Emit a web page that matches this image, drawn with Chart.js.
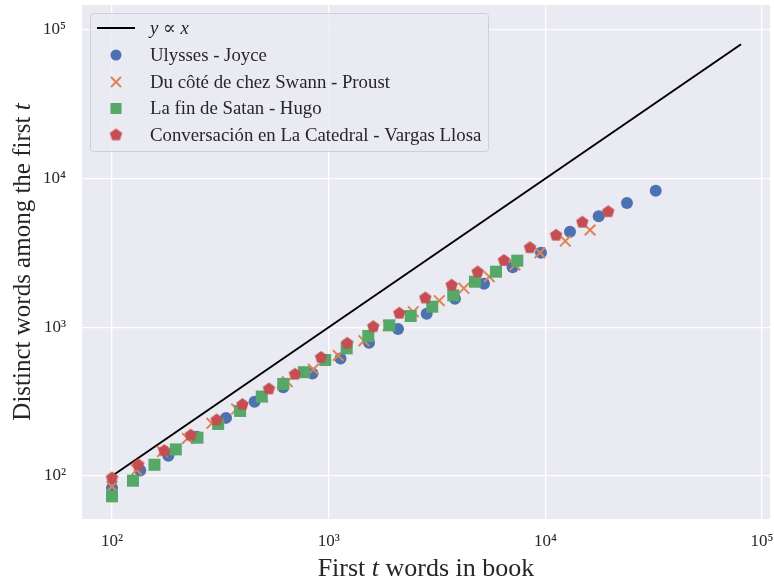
<!DOCTYPE html>
<html>
<head>
<meta charset="utf-8">
<script src="https://cdn.jsdelivr.net/npm/chart.js@4.4.1/dist/chart.umd.min.js"></script>
<style>
  html, body { margin: 0; padding: 0; background: #ffffff; }
  #container { width: 774px; height: 583px; }
</style>
</head>
<body>
<div id="container"><canvas id="chart" width="774" height="583"></canvas></div>
<script>
// tick positions and labels (log axes)
var tickValues = [100, 1000, 10000, 100000]
var tickLabels = ["10²", "10³", "10⁴", "10⁵"]

// reference line y ∝ x
var lineX = [100, 80000]
var lineY = [100, 80000]

// Ulysses - Joyce
var ulyssesX = [100, 135, 182, 246, 336, 455, 617, 841, 1134, 1535, 2089, 2833, 3826, 5210, 7063, 9545, 12990, 17620, 23800, 32300]
var ulyssesY = [83, 109, 137, 184, 246, 316, 395, 489, 617, 788, 974, 1234, 1557, 1965, 2532, 3175, 4395, 5578, 6855, 8290]

// Du côté de chez Swann - Proust
var proustX = [100, 130, 171, 223, 289, 376, 496, 644, 849, 1107, 1455, 1884, 2456, 3238, 4207, 5508, 7240, 9440, 12360, 16070]
var proustY = [85, 110, 146, 179, 226, 282, 342, 431, 522, 646, 812, 1025, 1274, 1510, 1829, 2189, 2624, 3175, 3803, 4510]

// La fin de Satan - Hugo
var hugoX = [100, 125, 157, 197, 248, 309, 390, 491, 617, 769, 964, 1211, 1524, 1905, 2390, 3006, 3758, 4732, 5916, 7420]
var hugoY = [73, 93, 119, 151, 181, 224, 274, 342, 416, 499, 603, 722, 874, 1031, 1191, 1376, 1641, 2026, 2366, 2805]

// Conversación en La Catedral - Vargas Llosa
var llosaX = [100, 132, 174, 231, 304, 400, 530, 699, 922, 1218, 1606, 2118, 2791, 3694, 4870, 6442, 8492, 11200, 14800, 19500]
var llosaY = [97, 119, 148, 188, 238, 302, 385, 483, 626, 780, 1009, 1242, 1574, 1917, 2354, 2813, 3430, 4157, 5085, 5985]

var seriesNames = [
  "Ulysses - Joyce",
  "Du côté de chez Swann - Proust",
  "La fin de Satan - Hugo",
  "Conversación en La Catedral - Vargas Llosa"
]

var BLUE = "#4C72B0"
var ORANGE = "#DD8452"
var GREEN = "#55A868"
var RED = "#C44E52"
var TEXT = "#262626"
var SERIF = "'Liberation Serif', 'DejaVu Serif', serif"

function toPoints(xs, ys) {
  var pts = []
  for (var i = 0; i < xs.length; i++) {
    pts.push({x: xs[i], y: ys[i]})
  }
  return pts
}

// pentagon marker as an image, matplotlib has "p" but chart.js doesn't
function makePentagon(color, r) {
  var size = Math.ceil(r * 2) + 2
  var c = document.createElement("canvas")
  c.width = size
  c.height = size
  var ctx = c.getContext("2d")
  ctx.fillStyle = color
  ctx.beginPath()
  for (var k = 0; k < 5; k++) {
    var a = -Math.PI / 2 + k * 2 * Math.PI / 5
    var px = size / 2 + r * Math.cos(a)
    var py = size / 2 + r * Math.sin(a)
    if (k == 0) ctx.moveTo(px, py)
    else ctx.lineTo(px, py)
  }
  ctx.closePath()
  ctx.fill()
  return c
}
var pentagon = makePentagon(RED, 6.5)

function drawSegments(ctx, segs, x, y, size) {
  // draw text pieces, some in italic, centered on x
  var total = 0
  for (var i = 0; i < segs.length; i++) {
    ctx.font = (segs[i][1] ? "italic " : "") + size + "px " + SERIF
    total += ctx.measureText(segs[i][0]).width
  }
  var cx = x - total / 2
  for (var j = 0; j < segs.length; j++) {
    ctx.font = (segs[j][1] ? "italic " : "") + size + "px " + SERIF
    ctx.fillText(segs[j][0], cx, y)
    cx += ctx.measureText(segs[j][0]).width
  }
}

var plotBackground = {
  id: "plotBackground",
  beforeDraw: function(chart) {
    var a = chart.chartArea
    var ctx = chart.ctx
    ctx.save()
    ctx.fillStyle = "#EAEAF2"
    ctx.fillRect(a.left, a.top, a.right - a.left, a.bottom - a.top)
    ctx.restore()
  }
}

var axisTitles = {
  id: "axisTitles",
  afterDraw: function(chart) {
    var a = chart.chartArea
    var ctx = chart.ctx
    ctx.save()
    ctx.fillStyle = TEXT
    ctx.textAlign = "left"
    ctx.textBaseline = "alphabetic"
    drawSegments(ctx, [["First ", false], ["t", true], [" words in book", false]], (a.left + a.right) / 2, 576, 26)
    ctx.translate(30, (a.top + a.bottom) / 2)
    ctx.rotate(-Math.PI / 2)
    drawSegments(ctx, [["Distinct words among the first ", false], ["t", true]], 0, 0, 25)
    ctx.restore()
  }
}

function legendMarker(ctx, kind, x, y) {
  ctx.save()
  if (kind == "line") {
    ctx.strokeStyle = "#000000"
    ctx.lineWidth = 2
    ctx.beginPath()
    ctx.moveTo(x - 19, y)
    ctx.lineTo(x + 19, y)
    ctx.stroke()
  } else if (kind == "circle") {
    ctx.fillStyle = BLUE
    ctx.beginPath()
    ctx.arc(x, y, 5.5, 0, Math.PI * 2)
    ctx.fill()
  } else if (kind == "cross") {
    ctx.strokeStyle = ORANGE
    ctx.lineWidth = 2
    ctx.beginPath()
    ctx.moveTo(x - 5, y - 5)
    ctx.lineTo(x + 5, y + 5)
    ctx.moveTo(x - 5, y + 5)
    ctx.lineTo(x + 5, y - 5)
    ctx.stroke()
  } else if (kind == "square") {
    ctx.fillStyle = GREEN
    ctx.fillRect(x - 5.5, y - 5.5, 11, 11)
  } else if (kind == "pentagon") {
    ctx.drawImage(pentagon, x - pentagon.width / 2, y - pentagon.height / 2)
  }
  ctx.restore()
}

var boxLegend = {
  id: "boxLegend",
  afterDatasetsDraw: function(chart) {
    var ctx = chart.ctx
    var bx = 90.5, by = 13.5, bw = 398, bh = 138, r = 3
    ctx.save()
    ctx.beginPath()
    ctx.moveTo(bx + r, by)
    ctx.lineTo(bx + bw - r, by)
    ctx.arcTo(bx + bw, by, bx + bw, by + r, r)
    ctx.lineTo(bx + bw, by + bh - r)
    ctx.arcTo(bx + bw, by + bh, bx + bw - r, by + bh, r)
    ctx.lineTo(bx + r, by + bh)
    ctx.arcTo(bx, by + bh, bx, by + bh - r, r)
    ctx.lineTo(bx, by + r)
    ctx.arcTo(bx, by, bx + r, by, r)
    ctx.closePath()
    ctx.fillStyle = "rgba(234, 234, 242, 0.8)"
    ctx.fill()
    ctx.strokeStyle = "#CFCFD6"
    ctx.lineWidth = 1
    ctx.stroke()

    var rows = [28, 55, 82, 108.5, 135]
    var kinds = ["line", "circle", "cross", "square", "pentagon"]
    for (var i = 0; i < rows.length; i++) {
      legendMarker(ctx, kinds[i], 116, rows[i])
    }
    ctx.fillStyle = TEXT
    ctx.textBaseline = "middle"
    ctx.textAlign = "left"
    // first entry: y ∝ x with italic letters
    var tx = 150
    var parts = [["y", true], [" ∝ ", false], ["x", true]]
    for (var p = 0; p < parts.length; p++) {
      ctx.font = (parts[p][1] ? "italic " : "") + "18.8px " + SERIF
      ctx.fillText(parts[p][0], tx, rows[0] + 1)
      tx += ctx.measureText(parts[p][0]).width
    }
    ctx.font = "18.8px " + SERIF
    for (var k = 0; k < seriesNames.length; k++) {
      ctx.fillText(seriesNames[k], 150, rows[k + 1] + 1)
    }
    ctx.restore()
  }
}

function logAxis(min, max, pad, isY) {
  return {
    type: "logarithmic",
    min: min,
    max: max,
    border: {display: false},
    grid: {color: "#FFFFFF", lineWidth: 1.3, drawTicks: false},
    afterBuildTicks: function(scale) {
      scale.ticks = tickValues.map(function(v) { return {value: v} })
    },
    afterFit: function(scale) {
      // fixed axis size, no extra room for the end labels
      if (isY) scale.width = 82
      else scale.height = 64
      scale.paddingTop = 0
      scale.paddingBottom = 0
      scale.paddingLeft = 0
      scale.paddingRight = 0
    },
    ticks: {
      color: TEXT,
      padding: pad,
      font: {family: SERIF, size: 17},
      autoSkip: false,
      maxRotation: 0,
      callback: function(value) {
        var idx = tickValues.indexOf(value)
        return idx >= 0 ? tickLabels[idx] : ""
      }
    }
  }
}

function renderChart() {
  var ctx = document.getElementById("chart")
  var chart = new Chart(ctx, {
    type: "scatter",
    data: {
      datasets: [
        {
          label: "y ∝ x",
          data: toPoints(lineX, lineY),
          showLine: true,
          borderColor: "#000000",
          borderWidth: 2,
          pointRadius: 0,
          order: 4
        },
        {
          label: seriesNames[0],
          data: toPoints(ulyssesX, ulyssesY),
          pointStyle: "circle",
          pointRadius: 6,
          pointBorderWidth: 0,
          backgroundColor: BLUE,
          borderColor: BLUE,
          order: 3
        },
        {
          label: seriesNames[1],
          data: toPoints(proustX, proustY),
          pointStyle: "crossRot",
          pointRadius: 7.5,
          pointBorderWidth: 2,
          backgroundColor: ORANGE,
          borderColor: ORANGE,
          order: 2
        },
        {
          label: seriesNames[2],
          data: toPoints(hugoX, hugoY),
          pointStyle: "rect",
          pointRadius: 8.5,
          pointBorderWidth: 0,
          backgroundColor: GREEN,
          borderColor: GREEN,
          order: 1
        },
        {
          label: seriesNames[3],
          data: toPoints(llosaX, llosaY),
          pointStyle: pentagon,
          pointRadius: 6,
          backgroundColor: RED,
          borderColor: RED,
          order: 0
        }
      ]
    },
    options: {
      responsive: false,
      animation: false,
      layout: {autoPadding: false, padding: {left: 0, right: 4, top: 5, bottom: 0}},
      plugins: {
        legend: {display: false},
        tooltip: {enabled: false}
      },
      scales: {
        x: logAxis(72.7, 108800, 12, false),
        y: logAxis(51.4, 147000, 16, true)
      }
    },
    plugins: [plotBackground, boxLegend, axisTitles]
  })
  return chart
}

renderChart()
</script>
</body>
</html>
